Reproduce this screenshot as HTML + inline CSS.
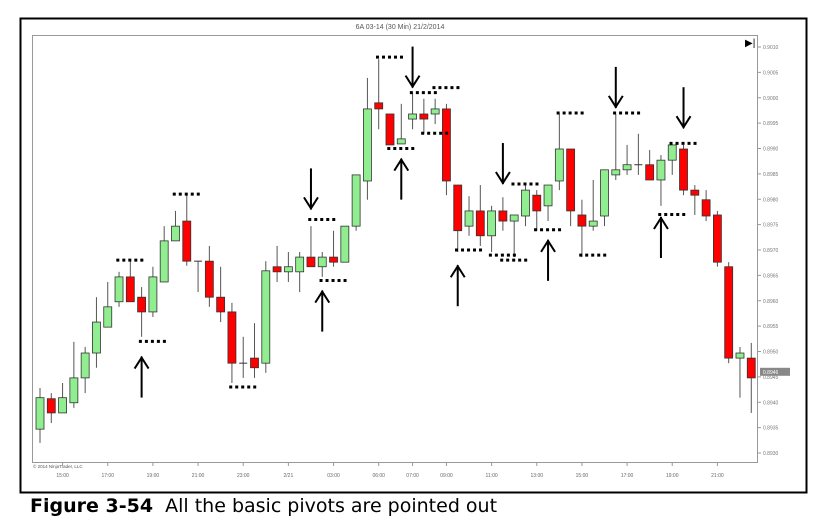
<!DOCTYPE html>
<html><head><meta charset="utf-8"><style>
html,body{margin:0;padding:0;background:#fff;}
body{width:815px;height:525px;overflow:hidden;position:relative;font-family:"Liberation Sans",sans-serif;}
#cap{position:absolute;left:30px;top:495px;font-family:"DejaVu Sans","Liberation Sans",sans-serif;font-size:19px;color:#000;white-space:nowrap;}
</style></head><body>
<svg id="chart" width="815" height="525" style="position:absolute;left:0;top:0">
<rect x="20.5" y="18.5" width="786" height="474" fill="none" stroke="#000" stroke-width="2"/>
<rect x="32.5" y="35.5" width="725" height="427" fill="#fff" stroke="#999" stroke-width="1"/>
<text x="400" y="29" font-size="7" fill="#555" text-anchor="middle">6A 03-14 (30 Min)  21/2/2014</text>
<text x="745" y="46" font-size="10" fill="#000">▶|</text>
<text x="33" y="468" font-size="4.5" fill="#555">© 2014 NinjaTrader, LLC</text>
<g id="yaxis"></g><g id="xaxis"></g><g id="candles"></g><g id="annot"></g>
</svg>
<div id="cap"><b>Figure 3-54</b>&nbsp; All the basic pivots are pointed out</div>
<script>
const opens=[8934.7,8940.7,8937.9,8939.9,8944.8,8949.7,8954.8,8959.8,8964.7,8960.7,8957.8,8963.7,8971.8,8975.7,8967.8,8967.8,8960.7,8957.8,8947.7,8948.7,8947.7,8966.7,8965.7,8965.7,8968.6,8966.7,8968.6,8967.6,8974.7,8983.6,8999.0,8996.8,8990.9,8995.8,8996.8,8996.8,8997.8,8982.8,8974.7,8977.7,8972.8,8977.7,8975.7,8976.7,8980.8,8978.7,8983.6,8989.9,8976.9,8974.7,8976.7,8984.8,8985.8,8986.8,8986.8,8983.8,8987.7,8989.9,8981.8,8979.9,8976.9,8966.7,8948.7,8948.7];
const highs=[8942.8,8941.8,8943.8,8951.9,8950.9,8960.7,8963.7,8965.7,8967.8,8962.7,8966.7,8974.7,8977.7,8980.8,8967.8,8970.8,8966.7,8959.6,8952.9,8955.6,8967.8,8970.8,8969.6,8969.6,8974.7,8969.6,8973.8,8974.7,8977.7,9003.9,9007.6,8996.8,8998.8,9000.9,8999.8,8999.8,8998.8,8982.8,8980.6,8982.8,8978.7,8980.4,8976.9,8983.0,8981.8,8982.8,8996.8,8989.9,8979.9,8983.8,8985.8,8996.8,8990.7,8992.9,8989.7,8988.7,8990.7,8990.7,8982.8,8981.8,8977.7,8967.6,8950.9,8951.7];
const lows=[8932.0,8935.9,8937.9,8938.9,8941.8,8946.8,8954.8,8958.8,8959.8,8952.9,8956.8,8963.7,8971.8,8966.9,8961.7,8958.8,8955.8,8943.8,8944.8,8944.8,8945.8,8963.7,8963.7,8961.7,8966.7,8964.7,8966.7,8967.6,8973.8,8979.9,8993.8,8990.7,8990.9,8993.8,8992.9,8994.8,8980.8,8969.6,8972.8,8970.8,8969.6,8973.8,8968.6,8974.7,8973.8,8975.7,8981.8,8974.7,8968.6,8973.8,8974.7,8983.8,8984.8,8984.8,8983.8,8978.7,8984.8,8980.8,8976.9,8975.7,8966.7,8947.7,8940.9,8937.9];
const closes=[8940.9,8937.9,8940.9,8944.8,8949.7,8955.8,8958.8,8964.7,8959.8,8957.8,8964.7,8971.8,8974.7,8967.8,8967.8,8960.7,8957.8,8947.7,8947.7,8946.8,8965.9,8965.7,8966.7,8968.6,8966.7,8968.6,8967.6,8974.7,8984.8,8997.8,8997.8,8990.7,8991.9,8996.8,8995.8,8997.8,8983.6,8973.8,8977.7,8972.8,8977.7,8975.7,8976.9,8981.8,8977.7,8982.8,8989.9,8977.7,8974.7,8975.7,8985.8,8985.8,8986.8,8986.8,8983.8,8987.7,8990.7,8981.8,8980.8,8976.7,8967.6,8948.7,8949.7,8944.8];
const yTicks=[9010,9005,9000,8995,8990,8985,8980,8975,8970,8965,8960,8955,8950,8945,8940,8935,8930];
const xTickIdx=[2,6,10,14,18,22,26,30,33,36,40,44,48,52,56,60];
const xTickLabels=["15:00","17:00","19:00","21:00","23:00","2/21","03:00","06:00","07:00","09:00","11:00","13:00","15:00","17:00","19:00","21:00"];
const lastPrice=8946;
const pivotIdx=[8,10,13,18,31,25,26,34,36,35,32,38,42,43,41,45,47,49,52,57,56];
const pivotPrice=[8968,8952,8981,8943,9008,8976,8964,9001,9002,8993,8990,8970,8968,8983,8969,8974,8997,8969,8997,8991,8977];
const arrowIdx=[9,24,25,33,32,37,41,45,51,57,55];
const arrowPrice=[8949,8978,8962,9002,8988,8967,8983,8972,8998,8994,8976.5];
const arrowDir=["up","down","up","down","up","up","down","up","down","down","up"];

const NS="http://www.w3.org/2000/svg";
function X(i){return 40+i*11.29;}
function Y(p){return 47+(9010-p)*5.075;}
function mk(tag,attrs,parent){const e=document.createElementNS(NS,tag);for(const k in attrs)e.setAttribute(k,attrs[k]);parent.appendChild(e);return e;}
const ya=document.getElementById('yaxis'),xa=document.getElementById('xaxis'),cg=document.getElementById('candles'),ag=document.getElementById('annot');
yTicks.forEach(t=>{
  const y=Y(t);
  const l=mk('line',{x1:757,x2:761,y1:y,y2:y,stroke:'#999'},ya);
  
  
  const tx=mk('text',{x:763,y:y+2,'font-size':5,fill:'#777'},ya);
  tx.textContent=(t/10000).toFixed(4);
  
  
});
{const y=Y(lastPrice);
 const r=mk('rect',{x:760,y:y-4,width:30,height:8,fill:'#888'},ya);
 
 
 const t=mk('text',{x:763,y:y+2,'font-size':5,fill:'#fff'},ya);
 t.textContent=(lastPrice/10000).toFixed(4);
 
 }
xTickIdx.forEach((i,k)=>{
  const x=X(i);
  const l=mk('line',{x1:x,x2:x,y1:462,y2:466,stroke:'#999'},xa);
  
  
  const t=mk('text',{x:x,y:477,'font-size':5,fill:'#666','text-anchor':'middle'},xa);
  t.textContent=xTickLabels[k];
  
  
});
opens.forEach((o,i)=>{
  const c=closes[i],x=X(i);
  const g=mk('g',{},cg);
  
  
  mk('line',{x1:x,x2:x,y1:Y(highs[i]),y2:Y(lows[i]),stroke:'#555','stroke-width':1},g);
  const top=Y(Math.max(o,c)),bot=Y(Math.min(o,c));
  if(Math.abs(bot-top)<1){mk('line',{x1:x-4,x2:x+4,y1:top,y2:top,stroke:'#333','stroke-width':1},g);}
  else mk('rect',{x:x-4,y:top,width:8,height:bot-top,fill:c>o?'#90ee90':'#ff0000',stroke:'#333','stroke-width':0.8},g);
});
pivotIdx.forEach((i,k)=>{
  const x=X(i),y=Y(pivotPrice[k]);
  const l=mk('line',{x1:x-14,x2:x+15,y1:y,y2:y,stroke:'#000','stroke-width':3,'stroke-dasharray':'3 3'},ag);
  
  
});
arrowIdx.forEach((i,k)=>{
  const x=X(i),y=Y(arrowPrice[k]),d=arrowDir[k]==='up'?1:-1;
  const g=mk('g',{fill:'none',stroke:'#000','stroke-width':2},ag);
  
  
  mk('line',{x1:x,x2:x,y1:y,y2:y+d*41},g);
  mk('polyline',{points:`${x-7},${y+d*12} ${x},${y+d*1} ${x+7},${y+d*12}`},g);
});
</script>
</body></html>
